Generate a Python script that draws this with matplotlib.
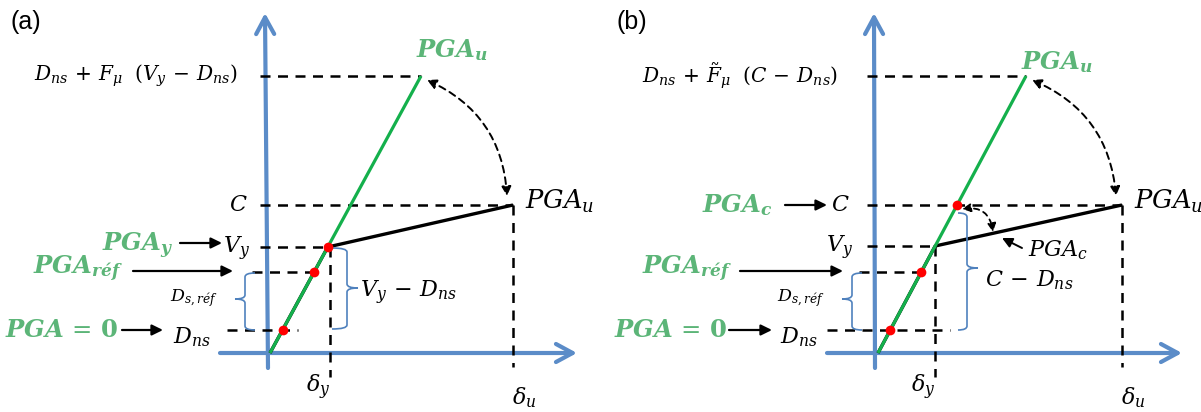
"""Capacity-curve sketch: PGA levels on an idealised bilinear pushover curve."""

import matplotlib.pyplot as plt
from matplotlib.patches import FancyArrowPatch, PathPatch
from matplotlib.path import Path

plt.rcParams["mathtext.fontset"] = "custom"
plt.rcParams["mathtext.rm"] = "DejaVu Serif"
plt.rcParams["mathtext.it"] = "DejaVu Serif:italic"
plt.rcParams["mathtext.bf"] = "DejaVu Serif:italic:bold"
plt.rcParams["mathtext.sf"] = "DejaVu Serif:bold"

PANEL_TAGS = ["(a)", "(b)"]

# levels on the vertical axis (diagram units, origin at the axes crossing)
D_NS = [23, 23]
D_REF = [81, 81]
V_Y = [106, 107]
C_LEVEL = [148, 148]
TOP_LEVEL = [277, 277]

# positions on the horizontal axis
LINE_X0 = [2, 3]
DELTA_Y = [62, 60]
DELTA_U = [245, 247]
PGA_U_X = [153, 151]

TOP_LABELS = [r"$D_{ns}\,+\,F_{\mu}\ \ (V_y\,-\,D_{ns})$",
              r"$D_{ns}\,+\,\tilde{F}_{\mu}\ \ (C\,-\,D_{ns})$"]
GAP_LABELS = [r"$V_y\,-\,D_{ns}$", r"$C\,-\,D_{ns}$"]

BLUE = "#5b8cc8"
BRACE_BLUE = "#4f81bd"
GREEN_LINE = "#14b04c"
GREEN_TEXT = "#5cb578"
RED = "#ff0000"
DASH = (0, (4, 3))

# panel frames in figure pixels: left edge, width, x of the vertical axis
FIG_W, FIG_H = 1201, 412
PANEL_LEFT = [0, 600]
PANEL_WIDTH = [600, 601]
ORIGIN_PX = [268, 875]
ORIGIN_PY = 353


def dashed(ax, xs, ys):
    ax.plot(xs, ys, color="black", lw=1.8, ls=DASH, dash_capstyle="butt", zorder=2)


def arrow(ax, start, end, style, lw, color="black", ls="-", conn="arc3", scale=10, z=4):
    ax.add_patch(FancyArrowPatch(start, end, arrowstyle=style, connectionstyle=conn,
                                 mutation_scale=scale, lw=lw, color=color, ls=ls,
                                 shrinkA=0, shrinkB=0, zorder=z))


def brace(ax, x, y_low, y_high, y_tip, tip, hook):
    r = 4
    verts = [(x + hook, y_high), (x, y_high), (x, y_high - r),
             (x, y_tip + r), (x, y_tip), (x + tip, y_tip),
             (x, y_tip), (x, y_tip - r),
             (x, y_low + r), (x, y_low), (x + hook, y_low)]
    codes = [Path.MOVETO, Path.CURVE3, Path.CURVE3,
             Path.LINETO, Path.CURVE3, Path.CURVE3,
             Path.CURVE3, Path.CURVE3,
             Path.LINETO, Path.CURVE3, Path.CURVE3]
    ax.add_patch(PathPatch(Path(verts, codes), fill=False, ec=BRACE_BLUE, lw=1.2, zorder=3))


def math(ax, x, y, s, size=16, ha="center", color="black", **kw):
    return ax.text(x, y, s, fontsize=size, ha=ha, va="center", color=color, **kw)


def green(ax, x, y, s):
    return math(ax, x, y, s, size=17.5, ha="right", color=GREEN_TEXT)


def draw_panel(ax, i):
    x0 = LINE_X0[i]
    slope = (PGA_U_X[i] - x0) / TOP_LEVEL[i]

    def on_line(level):
        return x0 + level * slope

    dns, dref, vy, c, top = D_NS[i], D_REF[i], V_Y[i], C_LEVEL[i], TOP_LEVEL[i]
    dy, du = DELTA_Y[i], DELTA_U[i]
    kink = on_line(vy)

    # axes
    arrow(ax, (0, -15), (-3 if i == 0 else -1, 340),
          "->,head_length=1.2,head_width=0.65", 3, BLUE, z=1)
    arrow(ax, (-48, 0), (309 if i == 0 else 307, 0),
          "->,head_length=1.2,head_width=0.65", 3, BLUE, z=1)

    # guide lines
    dashed(ax, [-8, PGA_U_X[i]], [top, top])
    dashed(ax, [-8, du], [c, c])
    dashed(ax, [-8, kink], [vy, vy])
    dashed(ax, [-16, on_line(dref)], [dref, dref])
    dashed(ax, [-41, 30] if i == 0 else [-48, 75], [dns, dns])
    dashed(ax, [dy, dy], [vy, -24])
    dashed(ax, [du, du], [c, -14])

    # bilinear capacity curve and the elastic (green) line
    ax.plot([x0, kink, du], [0, vy, c], color="black", lw=2.4,
            solid_capstyle="butt", zorder=3)
    ax.plot([x0, PGA_U_X[i]], [0, top], color=GREEN_LINE, lw=2.3,
            solid_capstyle="butt", zorder=4)

    hit = vy if i == 0 else c
    for level in (dns, dref, hit):
        ax.plot(on_line(level), level, "o", color=RED, ms=7, mec="none", zorder=5)

    # braces
    brace(ax, -23, dns, dref - 1, 54, -10, 10)
    if i == 0:
        brace(ax, 79, dns + 1, vy - 1, 65, 11, -15)
    else:
        brace(ax, 92, dns, c - 8, 85, 11, -9)

    # curved link between PGA_u on both curves
    arrow(ax, (PGA_U_X[i] + 6, top - 4), (du - 6, c + 9),
          "<|-|>,head_length=0.55,head_width=0.28", 1.4, ls=(0, (3.5, 2.5)),
          conn="arc3,rad=-0.3")

    # texts
    ax.text(-258, 331, PANEL_TAGS[i], fontsize=18, family="Liberation Sans",
            ha="left", va="center")
    math(ax, -30 if i == 0 else -37, top, TOP_LABELS[i], size=14.5, ha="right")
    math(ax, PGA_U_X[i] + 31, top + (26 if i == 0 else 14), r"$\mathbf{PGA_u}$",
         size=17.5, color=GREEN_TEXT)
    t = math(ax, du + 12, c + 4, r"$PGA_u$", size=18.5, ha="left")
    t.set_clip_box(ax.bbox)
    t.set_clip_on(True)
    math(ax, -20 if i == 0 else -25, c, r"$C$", ha="right")
    math(ax, -18 if i == 0 else -22, vy - 2, r"$V_y$", ha="right")
    math(ax, -76, 16, r"$D_{ns}$")
    math(ax, dy - 12, -34, r"$\delta_y$")
    math(ax, du + 11, -45, r"$\delta_u$")
    math(ax, -74, 55, r"$D_{s,réf}$", size=12.5)
    if i == 0:
        math(ax, 92, 60, GAP_LABELS[i], ha="left")
    else:
        math(ax, 110, 73, GAP_LABELS[i], ha="left")

    # green PGA labels with their arrows
    head = "-|>,head_length=0.65,head_width=0.32"
    if i == 0:
        green(ax, -95, vy + 1, r"$\mathbf{PGA_y}$")
        arrow(ax, (-88, vy + 4), (-46, vy + 4), head, 1.6)
    else:
        green(ax, -102, c, r"$\mathbf{PGA_c}$")
        arrow(ax, (-90, c), (-48, c), head, 1.6)
    green(ax, -145 if i == 0 else -143, dref + 3, r"$\mathbf{PGA_{réf}}$")
    arrow(ax, (-135, dref + 1), (-35 if i == 0 else -32, dref + 1), head, 1.6)
    green(ax, -150 if i == 0 else -148, dns, r"$\mathbf{PGA}\,=\,\mathsf{0}$")
    arrow(ax, (-146, dns), (-105 if i == 0 else -103, dns), head, 1.6)

    if i == 1:
        math(ax, 153, 103, r"$PGA_c$", ha="left")
        arrow(ax, (147, 105), (127, 115), "-|>,head_length=0.6,head_width=0.3", 1.4)
        arrow(ax, (on_line(c) + 5, c - 4), (118, 121),
              "<|-|>,head_length=0.5,head_width=0.25", 1.3, ls=(0, (3, 2.5)),
              conn="arc3,rad=-0.5")


fig = plt.figure(figsize=(FIG_W / 100, FIG_H / 100), dpi=100)
for i in range(2):
    ax = fig.add_axes([PANEL_LEFT[i] / FIG_W, 0, PANEL_WIDTH[i] / FIG_W, 1])
    left = PANEL_LEFT[i] - ORIGIN_PX[i]
    ax.set_xlim(left, left + PANEL_WIDTH[i])
    ax.set_ylim(ORIGIN_PY - FIG_H, ORIGIN_PY)
    ax.axis("off")
    draw_panel(ax, i)

fig.savefig("out.png", dpi=100)
